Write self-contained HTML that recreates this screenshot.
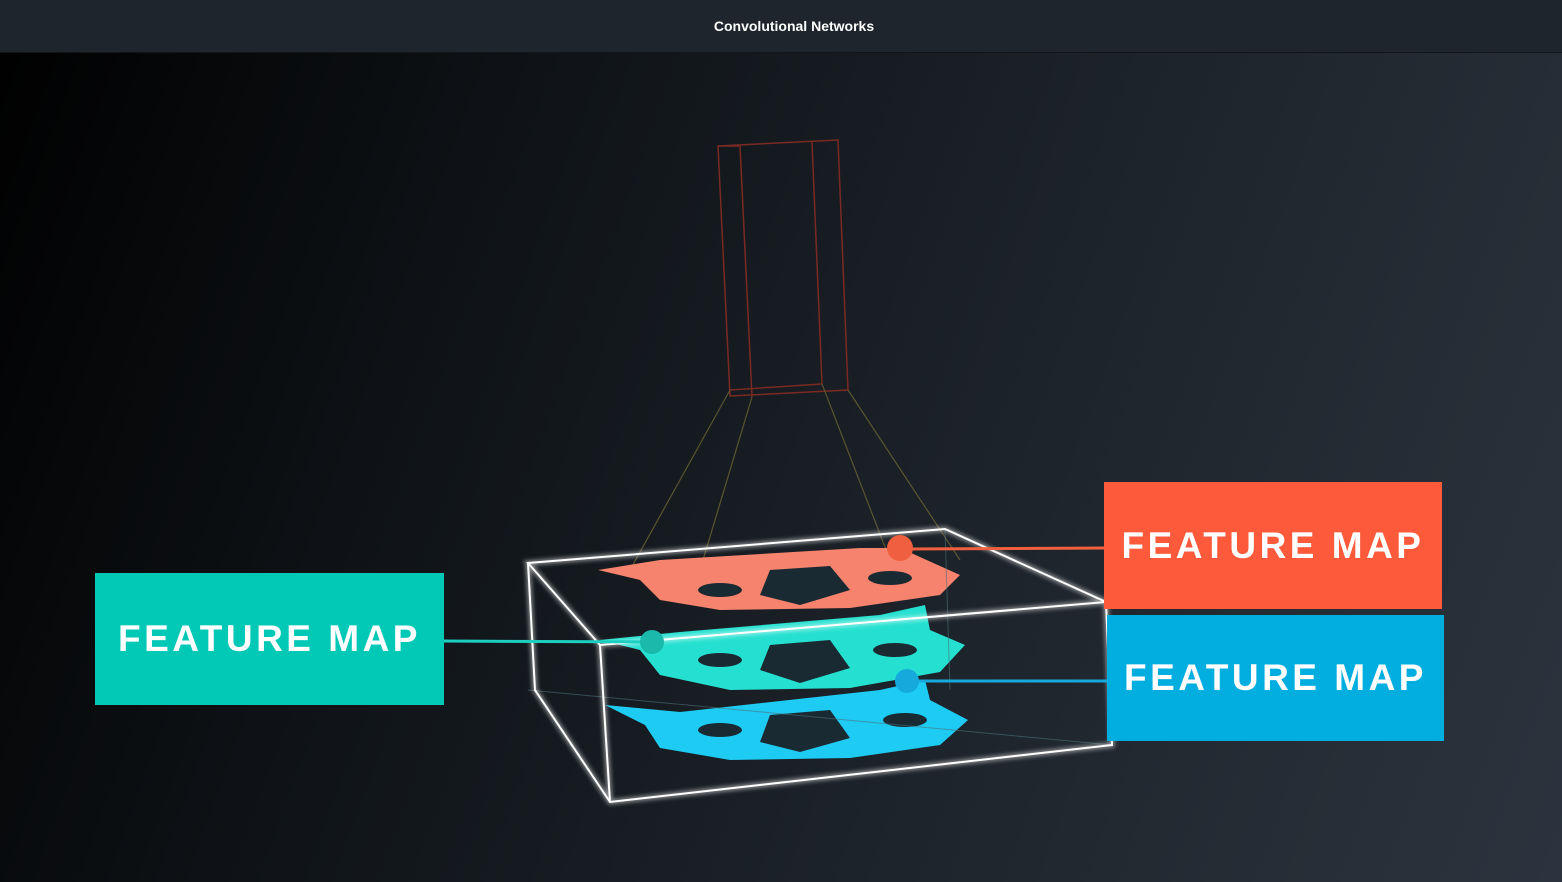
<!DOCTYPE html>
<html><head><style>
html,body{margin:0;padding:0;width:1562px;height:882px;overflow:hidden;font-family:"Liberation Sans",sans-serif}
.bg{position:absolute;left:0;top:0;width:1562px;height:882px;background:linear-gradient(110deg,#000 0%,#0f1317 30%,#1c2229 60%,#2b343e 100%)}
.hdr{position:absolute;left:0;top:0;width:1562px;height:52px;background:#1e252d;color:#fff;font-size:14px;text-align:center;line-height:52px;border-bottom:1px solid #11161b;font-weight:600}
.hdr span{position:relative;left:13px}
.lab{position:absolute;color:#fff;font-size:37px;letter-spacing:3.5px;font-weight:bold;display:flex;align-items:center;justify-content:center}
</style></head><body>
<div class="bg"></div>
<div class="hdr"><span>Convolutional Networks</span></div>
<svg width="1562" height="882" style="position:absolute;left:0;top:0">
<defs><filter id="g"><feGaussianBlur stdDeviation="2"/></filter></defs>
<g stroke="#7a2a22" stroke-width="1.5" fill="none">
<polygon points="718,146 838,140 848,390 730,396"/>
<line x1="740" y1="146" x2="752" y2="397"/><line x1="812" y1="142" x2="822" y2="384"/>
<line x1="718" y1="146" x2="740" y2="146"/><line x1="730" y1="390" x2="822" y2="384"/>
</g>
<g stroke="#5a5530" stroke-width="1.2" fill="none">
<line x1="730" y1="390" x2="630" y2="570"/><line x1="752" y1="397" x2="700" y2="570"/>
<line x1="848" y1="390" x2="960" y2="560"/><line x1="822" y1="384" x2="890" y2="560"/>
</g>
<g fill="#f5836d"><path d="M598,570 L660,560 L860,548 L900,548 L960,575 L940,595 L850,608 L720,610 L660,600 L640,580 Z"/></g>
<g fill="#1a2a33"><ellipse cx="720" cy="590" rx="22" ry="7"/><ellipse cx="890" cy="578" rx="22" ry="7"/><path d="M770,570 L830,566 L850,590 L800,605 L760,595Z"/></g>
<g fill="#25e0d0"><path d="M600,640 L680,632 L880,615 L925,605 L930,630 L965,645 L940,672 L850,688 L730,690 L660,675 L640,650 Z"/></g>
<g fill="#1a2a33"><ellipse cx="720" cy="660" rx="22" ry="7"/><ellipse cx="895" cy="650" rx="22" ry="7"/><path d="M770,645 L830,640 L850,668 L800,683 L760,670Z"/></g>
<g fill="#1ecbf2"><path d="M605,705 L680,712 L880,690 L925,680 L930,700 L968,720 L940,745 L850,758 L730,760 L660,748 L645,725 Z"/></g>
<g fill="#1a2a33"><ellipse cx="720" cy="730" rx="22" ry="7"/><ellipse cx="905" cy="720" rx="22" ry="7"/><path d="M770,715 L830,710 L850,738 L800,752 L760,742Z"/></g>
<g stroke="#4a6f7a" stroke-width="1" fill="none" opacity=".6">
<line x1="528" y1="690" x2="1112" y2="745"/><line x1="945" y1="529" x2="950" y2="690"/>
</g>
<g stroke="#fff" stroke-width="5" fill="none" filter="url(#g)" opacity=".5">
<polygon points="528,563 945,529 1106,602 600,645"/><polyline points="528,563 535,690 610,802 1112,745 1106,602"/><line x1="600" y1="645" x2="610" y2="802"/>
</g>
<g stroke="#fff" stroke-width="2" fill="none">
<polygon points="528,563 945,529 1106,602 600,645"/><polyline points="528,563 535,690 610,802 1112,745 1106,602"/><line x1="600" y1="645" x2="610" y2="802"/>
</g>
<line x1="443" y1="641" x2="650" y2="642" stroke="#1ccfc0" stroke-width="3"/>
<circle cx="652" cy="642" r="12" fill="#1bb9ac"/>
<line x1="905" y1="549" x2="1106" y2="548" stroke="#f0603f" stroke-width="3"/>
<circle cx="900" cy="548" r="13" fill="#f0603f"/>
<line x1="905" y1="681" x2="1108" y2="681" stroke="#16a9dc" stroke-width="3"/>
<circle cx="907" cy="681" r="12" fill="#16a9dc"/>
</svg>
<div class="lab" style="left:95px;top:573px;width:349px;height:132px;background:#02c8b6">FEATURE MAP</div>
<div class="lab" style="left:1104px;top:482px;width:338px;height:127px;background:#fc5a3b">FEATURE MAP</div>
<div class="lab" style="left:1107px;top:615px;width:337px;height:126px;background:#02ade0">FEATURE MAP</div>
</body></html>
